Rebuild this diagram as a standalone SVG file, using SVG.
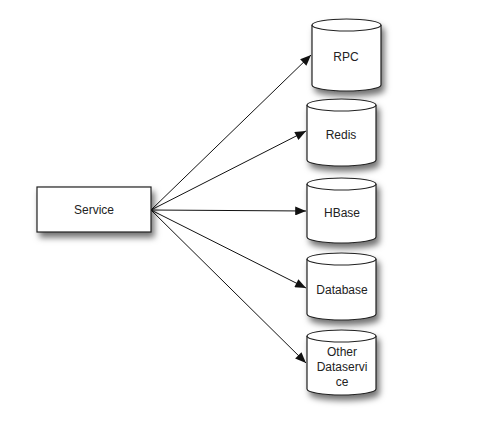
<svg xmlns="http://www.w3.org/2000/svg" width="504" height="424" viewBox="0 0 504 424">
<style>
.lbl{font-family:"Liberation Sans",Arial,sans-serif;font-size:12px;fill:#222;text-anchor:middle}
.shape{fill:#fff;stroke:#222;stroke-width:1.2}
.conn{stroke:#111;stroke-width:1;fill:none;marker-end:url(#ah)}
</style>
<defs>
<filter id="sh" x="-30%" y="-30%" width="170%" height="170%">
<feDropShadow dx="3" dy="5" stdDeviation="3" flood-color="#000" flood-opacity="0.55"/>
</filter>
<marker id="ah" viewBox="0 0 12 10" refX="12" refY="5" markerWidth="12" markerHeight="9" markerUnits="userSpaceOnUse" orient="auto">
<path d="M0,0 L12,5 L0,10 z" fill="#111"/>
</marker>
</defs>
<rect width="504" height="424" fill="#fff"/>
<g id="connectors">
<line class="conn" x1="151" y1="210" x2="311" y2="55"/>
<line class="conn" x1="151" y1="210" x2="306" y2="131"/>
<line class="conn" x1="151" y1="210" x2="306" y2="211"/>
<line class="conn" x1="151" y1="210" x2="306" y2="288"/>
<line class="conn" x1="151" y1="210" x2="306" y2="363"/>
</g>
<g id="service">
<rect class="shape" x="37" y="187" width="114" height="45" filter="url(#sh)"/>
<text class="lbl" x="94" y="214">Service</text>
</g>
<g id="rpc">
<path class="shape" filter="url(#sh)" d="M312,25 A34.5,6 0 0 1 381,25 L381,85 A34.5,6 0 0 1 312,85 Z"/>
<path class="shape" d="M312,25 A34.5,6 0 0 0 381,25"/>
<text class="lbl" x="346" y="61">RPC</text>
</g>
<g id="redis">
<path class="shape" filter="url(#sh)" d="M307,105 A34.5,6 0 0 1 376,105 L376,160 A34.5,6 0 0 1 307,160 Z"/>
<path class="shape" d="M307,105 A34.5,6 0 0 0 376,105"/>
<text class="lbl" x="341" y="139">Redis</text>
</g>
<g id="hbase">
<path class="shape" filter="url(#sh)" d="M307,184 A34.5,6 0 0 1 376,184 L376,237 A34.5,6 0 0 1 307,237 Z"/>
<path class="shape" d="M307,184 A34.5,6 0 0 0 376,184"/>
<text class="lbl" x="342" y="217">HBase</text>
</g>
<g id="database">
<path class="shape" filter="url(#sh)" d="M307,259 A34.5,6 0 0 1 376,259 L376,314 A34.5,6 0 0 1 307,314 Z"/>
<path class="shape" d="M307,259 A34.5,6 0 0 0 376,259"/>
<text class="lbl" x="342" y="294">Database</text>
</g>
<g id="other">
<path class="shape" filter="url(#sh)" d="M307,336 A34.5,6 0 0 1 376,336 L376,389 A34.5,6 0 0 1 307,389 Z"/>
<path class="shape" d="M307,336 A34.5,6 0 0 0 376,336"/>
<text class="lbl" x="342" y="356">Other</text>
<text class="lbl" x="342" y="371">Dataservi</text>
<text class="lbl" x="342" y="386">ce</text>
</g>
</svg>
